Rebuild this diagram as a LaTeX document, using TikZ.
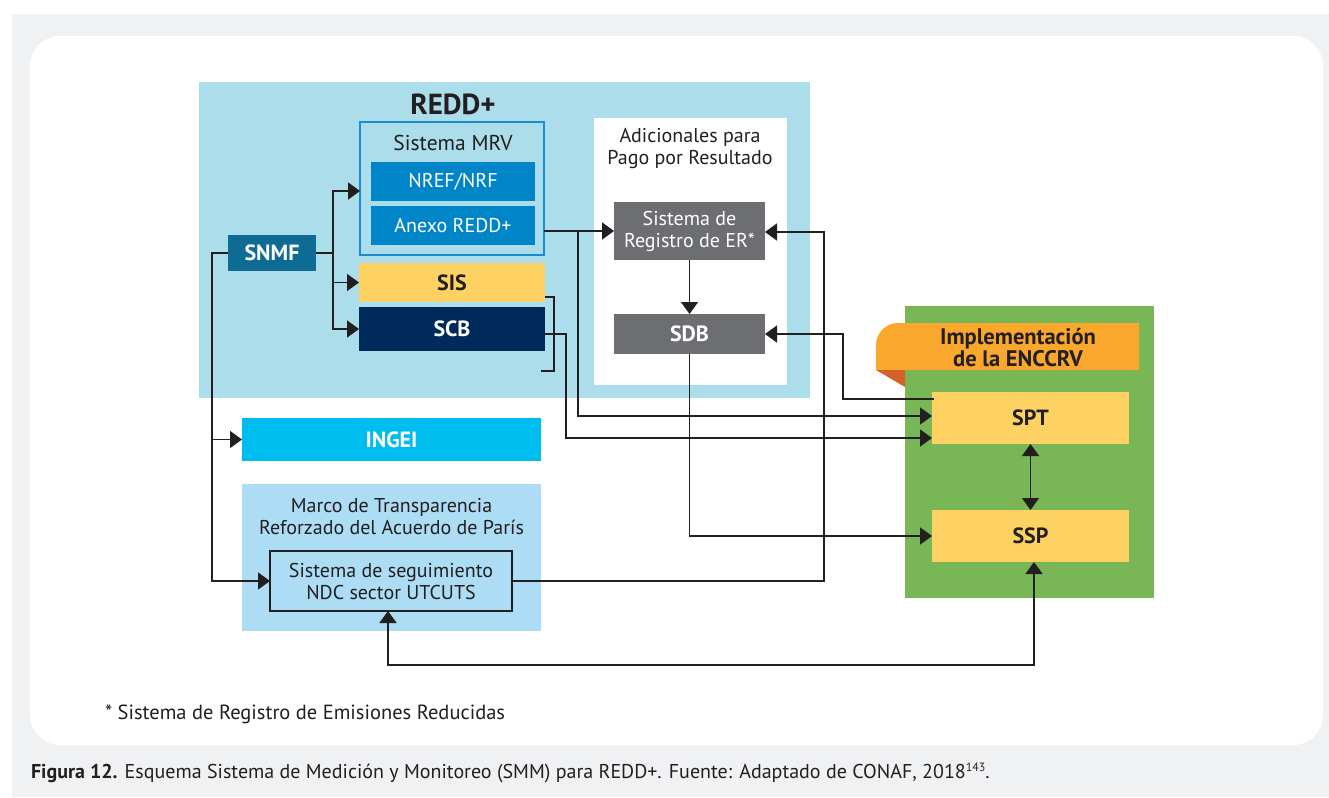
\documentclass[tikz,border=0pt]{standalone}
\usepackage{fontspec}
\setmainfont{PT Sans}
\usetikzlibrary{arrows.meta,calc}
\definecolor{pagegray}{HTML}{F0F1F3}
\definecolor{reddbg}{HTML}{ABDDEA}
\definecolor{mrvblue}{HTML}{1B8DD0}
\definecolor{midblue}{HTML}{0085C9}
\definecolor{sisyellow}{HTML}{FDD262}
\definecolor{navy}{HTML}{002A5A}
\definecolor{snmfblue}{HTML}{0E6B93}
\definecolor{boxgray}{HTML}{6D6E71}
\definecolor{ingeiblue}{HTML}{00BDF0}
\definecolor{marcoblue}{HTML}{ADDCF5}
\definecolor{green}{HTML}{79B655}
\definecolor{bannerorange}{HTML}{F9A72D}
\definecolor{foldorange}{HTML}{D4612A}
\definecolor{dark}{HTML}{231F20}
\begin{document}
\begin{tikzpicture}[x=1pt,y=-1pt,
  box/.style={inner sep=0pt, outer sep=0pt, align=center, text=dark},
  lbl/.style={font=\fontsize{20}{22}\selectfont},
  blbl/.style={font=\bfseries\fontsize{22}{24}\selectfont},
  conn/.style={draw=dark, line width=1.6pt},
  arr/.style={conn, -{Triangle[length=12pt,width=17pt]}},
  darr/.style={conn, {Triangle[length=12pt,width=17pt]}-{Triangle[length=12pt,width=17pt]}}]
\useasboundingbox (0,0) rectangle (1329,797);
% background
\fill[pagegray] (12,14) rectangle (1329,797);
\fill[white, rounded corners=30pt] (30,36) rectangle (1323,745);

% REDD+ area
\node[box, fill=reddbg, minimum width=611pt, minimum height=316pt] (redd) at (504.5,240) {};
\node[box, font=\bfseries\fontsize{29}{31}\selectfont] (reddtitle) at (453,104) {REDD+};
\node[box, draw=mrvblue, line width=2.2pt, minimum width=184pt, minimum height=133pt] (mrv) at (452,188.5) {};
\node[box, font=\fontsize{21.5}{24}\selectfont] (mrvlabel) at (453,143) {Sistema MRV};
\node[box, lbl, fill=midblue, text=white, minimum width=164pt, minimum height=39pt] (nref) at (453,181.5) {NREF/NRF};
\node[box, lbl, fill=midblue, text=white, minimum width=164pt, minimum height=39pt] (anexo) at (453,225.5) {Anexo REDD+};
\node[box, blbl, fill=sisyellow, minimum width=186pt, minimum height=39pt] (sis) at (452,282.5) {SIS};
\node[box, blbl, fill=navy, text=white, minimum width=186pt, minimum height=44pt] (scb) at (452,329) {SCB};
\node[box, blbl, fill=snmfblue, text=white, minimum width=88pt, minimum height=36pt] (snmf) at (272,253) {SNMF};

% Adicionales
\node[box, fill=white, minimum width=193pt, minimum height=267pt] (adic) at (690.5,251.5) {};
\node[box, lbl] (adiclabel) at (690,149) {Adicionales para\\Pago por Resultado};
\node[box, lbl, fill=boxgray, text=white, minimum width=151pt, minimum height=58pt] (er) at (689.5,231) {Sistema de\\Registro de ER*};
\node[box, blbl, fill=boxgray, text=white, minimum width=151pt, minimum height=40pt] (sdb) at (689.5,334) {SDB};

% Implementacion
\node[box, fill=green, minimum width=249pt, minimum height=292pt] (green) at (1029.5,452) {};
\fill[bannerorange] (876,370) [rounded corners=22pt] -- (876,323) [sharp corners] -- (1139,323) -- (1139,370) -- cycle;
\fill[foldorange] (876,370) -- (905,370) -- (905,387) -- cycle;
\node[box, font=\bfseries\fontsize{22.5}{22}\selectfont] (impl) at (1018,348) {Implementación\\de la ENCCRV};
\node[box, blbl, fill=sisyellow, minimum width=197pt, minimum height=52pt] (spt) at (1030.5,418) {SPT};
\node[box, blbl, fill=sisyellow, minimum width=197pt, minimum height=52pt] (ssp) at (1030.5,536) {SSP};

% INGEI and Marco
\node[box, blbl, fill=ingeiblue, text=white, minimum width=299pt, minimum height=43pt] (ingei) at (391.5,439.5) {INGEI};
\node[box, fill=marcoblue, minimum width=299pt, minimum height=147pt] (marco) at (391.5,557.5) {};
\node[box, lbl] (marcolabel) at (391.5,516.5) {Marco de Transparencia\\Reforzado del Acuerdo de París};
\node[box, lbl, draw=dark, line width=1.8pt, minimum width=242pt, minimum height=60pt] (seg) at (391,581) {Sistema de seguimiento\\NDC sector UTCUTS};

% connectors
\coordinate (j1) at (333,253);
\draw[conn] (snmf.east) -- (j1);
\draw[arr] (j1) |- ($(mrv.west)+(0,2.5)$);
\draw[arr] (j1) |- (sis.west);
\draw[arr] (j1) |- (scb.west);

\coordinate (j2) at (212,253);
\draw[arr] (snmf.west) -- (j2) |- (seg.west);
\draw[arr] (j2) |- (ingei.west);

\coordinate (j3) at (578,231);
\draw[arr] (mrv.east |- er.west) -- (er.west);
\draw[arr] (j3) |- ($(spt.west)+(0,-2)$);

\coordinate (b1) at (554,371);
\coordinate (b2) at (541,371);
\draw[conn] ($(sis.east)+(0,14.5)$) -| (b1) -- (b2);

\coordinate (j5) at (566,438);
\draw[arr] ($(scb.east)+(0,5)$) -| (j5) -- ($(spt.west)+(0,20)$);

\draw[arr] (er.south) -- (sdb.north);

\coordinate (j7) at (843,399);
\draw[arr] ($(spt.west)+(2,-19)$) -- (j7) |- (sdb.east);

\coordinate (c8) at (824,232);
\draw[arr] (seg.east) -| (c8) -- (er.east |- c8);

\draw[arr] (sdb.south) |- (ssp.west);

\draw[darr] (spt.south) -- (ssp.north);

\coordinate (c11) at (388,665);
\draw[darr] (seg.south -| c11) -- (c11) -| ($(ssp.south)+(3.5,0)$);

% texts
\node[box, anchor=west, font=\fontsize{20.5}{22}\selectfont] (foot) at (105,714) {* Sistema de Registro de Emisiones Reducidas};
\node[box, anchor=west, font=\fontsize{20}{22}\selectfont] (caption) at (31,773) {\textbf{Figura 12.} Esquema Sistema de Medición y Monitoreo (SMM) para REDD+. Fuente: Adaptado de CONAF, 2018\raisebox{7pt}{\fontsize{12}{12}\selectfont 143}.};
\end{tikzpicture}
\end{document}
